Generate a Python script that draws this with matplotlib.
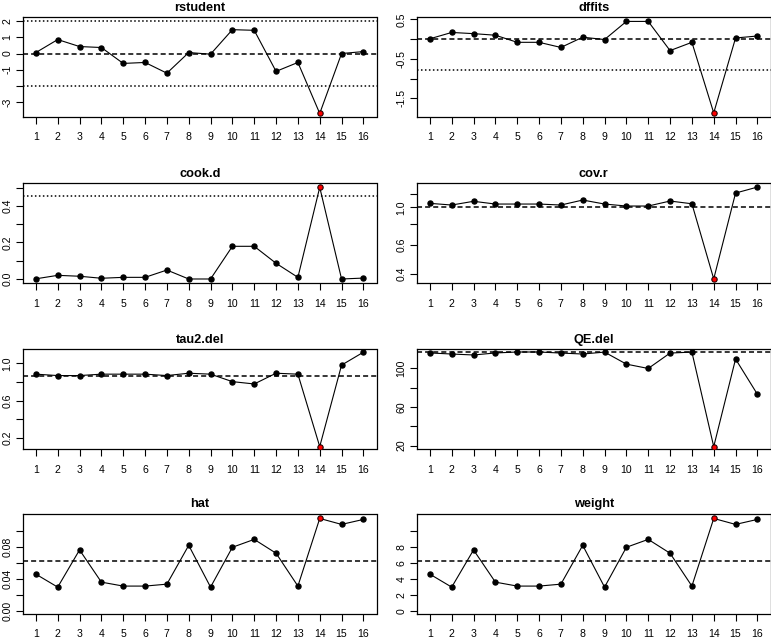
import numpy as np
import matplotlib.pyplot as plt
from matplotlib.ticker import NullLocator

plt.rcParams['font.family'] = ['Liberation Sans', 'DejaVu Sans']

study = np.arange(1, 17)
highlight = 14

rstudent = [0.06, 0.86, 0.43, 0.37, -0.61, -0.55, -1.21, 0.06,
            -0.04, 1.47, 1.43, -1.10, -0.55, -3.69, 0.00, 0.12]
dffits = [0.01, 0.17, 0.14, 0.10, -0.08, -0.08, -0.21, 0.05,
          -0.01, 0.45, 0.45, -0.29, -0.08, -1.87, 0.03, 0.08]
cook_d = [0.001, 0.020, 0.015, 0.004, 0.009, 0.009, 0.049, 0.0,
          0.0, 0.179, 0.179, 0.086, 0.009, 0.502, 0.0, 0.005]
cov_r = [1.056, 1.032, 1.086, 1.046, 1.046, 1.046, 1.032, 1.105,
         1.046, 1.018, 1.018, 1.090, 1.050, 0.375, 1.216, 1.320]
tau2_del = [0.885, 0.870, 0.870, 0.885, 0.885, 0.885, 0.870, 0.895,
            0.885, 0.805, 0.780, 0.895, 0.885, 0.110, 0.982, 1.120]
qe_del = [116.1, 115.0, 114.0, 116.1, 117.1, 117.1, 116.0, 115.0,
          117.0, 104.5, 100.0, 116.0, 117.0, 18.9, 109.8, 73.2]
hat = [0.0458, 0.0297, 0.0759, 0.0359, 0.0310, 0.0310, 0.0334, 0.0816,
       0.0297, 0.0792, 0.0890, 0.0718, 0.0310, 0.1150, 0.1076, 0.1138]
weight = [4.58, 2.97, 7.59, 3.59, 3.10, 3.10, 3.34, 8.16,
          2.97, 7.92, 8.90, 7.18, 3.10, 11.50, 10.76, 11.38]

# reference lines (dashed = full model value, dotted = cutoffs)
rstudent_cut = 2.0
dffits_cut = -0.775
cook_cut = 0.455
tau2_full = 0.870
qe_full = 117.1
hat_avg = 0.0625
weight_avg = 6.25

W, H = 771, 638
fig = plt.figure(figsize=(W / 100, H / 100), dpi=100)


def add_panel(col, row, title, values, ylim, yticks, ylabels,
              dashed=None, dotted=(), logy=False):
    x0 = [23, 417][col]
    top = [17, 183.3, 349.3, 513.7][row]
    ax = fig.add_axes([x0 / W, 1 - (top + 100) / H, 353.5 / W, 100 / H])
    if logy:
        ax.set_yscale('log')
    ax.plot(study, values, color='black', lw=0.8, zorder=3)
    ax.plot(study, values, 'o', color='black', ms=3.6, zorder=4)
    i = highlight - 1
    ax.plot(study[i], values[i], 'o', mfc='red', mec='#6a0000', mew=0.5,
            ms=3.4, zorder=5)
    if dashed is not None:
        ax.axhline(dashed, color='black', lw=1.1, ls=(0, (3.3, 2)), zorder=2)
    for d in dotted:
        ax.axhline(d, color='black', lw=1.1, ls=(0, (1, 1.6)), zorder=2)
    ax.set_xlim(0.41, 16.6)
    ax.set_ylim(*ylim)
    ax.set_xticks(study)
    ax.set_xticklabels([str(s) for s in study])
    ax.set_yticks(yticks)
    ax.set_yticklabels(ylabels)
    ax.yaxis.set_minor_locator(NullLocator())
    ax.tick_params(axis='both', direction='out', length=5, width=0.8,
                   labelsize=7.6, colors='black')
    ax.tick_params(axis='x', pad=6)
    ax.tick_params(axis='y', pad=2.5, labelrotation=90)
    for lbl in ax.get_yticklabels():
        lbl.set_va('center')
    for sp in ax.spines.values():
        sp.set_linewidth(0.9)
    ax.set_title(title, fontsize=9.2, fontweight='bold', pad=4.5)
    return ax


add_panel(0, 0, 'rstudent', rstudent, (-3.91, 2.25),
          [-3, -2, -1, 0, 1, 2], ['-3', '', '-1', '0', '1', '2'],
          dashed=0, dotted=(rstudent_cut, -rstudent_cut))
add_panel(1, 0, 'dffits', dffits, (-1.974, 0.562),
          [-1.5, -1, -0.5, 0, 0.5], ['-1.5', '', '-0.5', '', '0.5'],
          dashed=0, dotted=(dffits_cut,))
add_panel(0, 1, 'cook.d', cook_d, (-0.0236, 0.524),
          [0, 0.1, 0.2, 0.3, 0.4, 0.5], ['0.0', '', '0.2', '', '0.4', ''],
          dotted=(cook_cut,))
add_panel(1, 1, 'cov.r', cov_r, (0.353, 1.39),
          [0.4, 0.6, 0.8, 1.0, 1.2], ['0.4', '0.6', '', '1.0', ''],
          dashed=1.0, logy=True)
add_panel(0, 2, 'tau2.del', tau2_del, (0.081, 1.151),
          [0.2, 0.4, 0.6, 0.8, 1.0], ['0.2', '', '0.6', '', '1.0'],
          dashed=tau2_full)
add_panel(1, 2, 'QE.del', qe_del, (16.1, 119.9),
          [20, 40, 60, 80, 100], ['20', '', '60', '', '100'],
          dashed=qe_full)
add_panel(0, 3, 'hat', hat, (-0.0033, 0.1209),
          [0, 0.02, 0.04, 0.06, 0.08, 0.10],
          ['0.00', '', '0.04', '', '0.08', ''],
          dashed=hat_avg)
add_panel(1, 3, 'weight', weight, (-0.33, 12.09),
          [0, 2, 4, 6, 8, 10], ['0', '2', '4', '6', '8', ''],
          dashed=weight_avg)

fig.savefig('out.png', dpi=100)
